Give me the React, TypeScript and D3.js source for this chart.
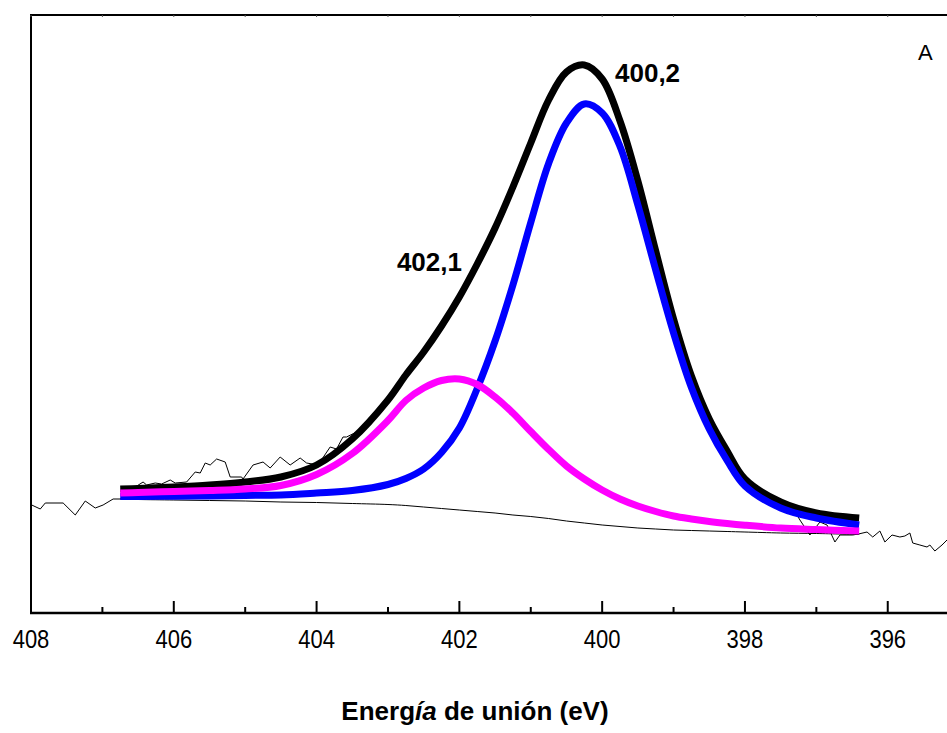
import React from "react";
import * as d3 from "d3";

// Binding energy grid for fitted curves (eV, high -> low)
const energies = [406.75, 406.5, 406, 405.5, 405, 404.5, 404, 403.5, 403, 402.75, 402.5, 402.25, 402, 401.75, 401.5, 401.25, 401, 400.75, 400.5, 400.25, 400, 399.75, 399.5, 399.25, 399, 398.75, 398.5, 398.25, 398, 397.5, 397, 396.4];
const baseline = [1140, 1135, 1130, 1125, 1120, 1110, 1105, 1095, 1085, 1075, 1060, 1045, 1030, 1015, 1000, 980, 965, 945, 920, 900, 880, 865, 850, 840, 830, 825, 820, 815, 810, 800, 795, 785];
const peak400 = [1165, 1165, 1168, 1171, 1176, 1180, 1200, 1225, 1285, 1345, 1440, 1605, 1850, 2245, 2720, 3280, 3905, 4495, 4900, 5090, 5000, 4665, 4080, 3430, 2800, 2255, 1840, 1525, 1270, 1050, 950, 880];
const peak402 = [1200, 1205, 1215, 1225, 1240, 1275, 1385, 1595, 1925, 2125, 2250, 2325, 2340, 2285, 2160, 2000, 1815, 1635, 1470, 1340, 1230, 1140, 1070, 1015, 970, 940, 915, 895, 878, 850, 835, 820];
const envelope = [1240, 1245, 1260, 1280, 1310, 1360, 1480, 1740, 2130, 2380, 2610, 2870, 3160, 3490, 3850, 4260, 4700, 5130, 5410, 5480, 5340, 4920, 4320, 3620, 2940, 2370, 1940, 1620, 1340, 1110, 1000, 950];

// Measured spectrum
const rawE = [407.99, 407.87, 407.8, 407.55, 407.38, 407.24, 407.1, 406.99, 406.85, 406.75, 406.54, 406.43, 406.38, 406.26, 406.17, 406.05, 405.98, 405.82, 405.7, 405.63, 405.56, 405.49, 405.4, 405.28, 405.21, 405.05, 405.03, 404.89, 404.75, 404.65, 404.51, 404.37, 404.23, 404.14, 403.98, 403.81, 403.72, 403.63, 403.58, 403.44, 403.37, 403.3, 403.11, 402.83, 402.69, 402.32, 402.13, 401.9, 401.7, 401.5, 401.3, 401.1, 400.9, 400.7, 400.55, 400.4, 400.3, 400.2, 400.1, 400.0, 399.85, 399.7, 399.55, 399.4, 399.25, 399.1, 398.95, 398.8, 398.65, 398.5, 398.35, 398.2, 398.05, 397.9, 397.75, 397.6, 397.45, 397.33, 397.23, 397.09, 396.95, 396.85, 396.74, 396.67, 396.49, 396.41, 396.29, 396.21, 396.11, 396.04, 395.94, 395.83, 395.76, 395.69, 395.65, 395.55, 395.45, 395.41, 395.34, 395.24, 395.17];
const rawI = [1080, 1040, 1100, 1100, 980, 1120, 1050, 1080, 1140, 1140, 1260, 1310, 1280, 1300, 1290, 1330, 1300, 1310, 1410, 1400, 1500, 1480, 1540, 1510, 1360, 1360, 1340, 1480, 1510, 1450, 1560, 1480, 1550, 1500, 1480, 1660, 1640, 1760, 1760, 1810, 1830, 1880, 2070, 2290, 2430, 2800, 3040, 3290, 3530, 3850, 4170, 4510, 4880, 5200, 5370, 5460, 5480, 5460, 5420, 5330, 5050, 4780, 4440, 4040, 3620, 3170, 2790, 2450, 2170, 1940, 1720, 1550, 1380, 1280, 1200, 1140, 1080, 1050, 930, 780, 910, 880, 710, 780, 780, 790, 810, 760, 820, 710, 780, 760, 770, 800, 700, 680, 660, 680, 620, 680, 730];

const majorTicks = [408, 406, 404, 402, 400, 398, 396];
const minorTicks = [407, 405, 403, 401, 399, 397];
const topTicks = [408, 407, 406, 405, 404, 403, 402, 401, 400, 399, 398, 397, 396];
const peakLabels = [
  { text: "400,2", e: 399.82, v: 5310 },
  { text: "402,1", e: 402.875, v: 3420 },
];

const FONT = "'Liberation Sans', Arial, sans-serif";

export default function App() {
  const x = d3.scaleLinear().domain([408, 395.17]).range([31, 947]);
  const y = d3.scaleLinear().domain([0, 5980]).range([613, 15]);

  const smooth = d3
    .line<number>()
    .x((_, i) => x(energies[i]))
    .y((d) => y(d))
    .curve(d3.curveCatmullRom.alpha(0.5));
  const rawLine = d3
    .line<number>()
    .x((_, i) => x(rawE[i]))
    .y((d) => y(d));

  const x0 = x(408);
  const x1 = 947;
  const yb = y(0);
  const yt = y(5980);

  return (
    <svg width={947} height={733} style={{ position: "absolute", left: 0, top: 0, background: "#fff" }}>
      <rect x={0} y={0} width={947} height={733} fill="#fff" />
      {/* frame */}
      <line x1={x0} y1={yt} x2={x0} y2={yb} stroke="#000" strokeWidth={2} />
      <line x1={x0 - 1} y1={yt} x2={x1} y2={yt} stroke="#000" strokeWidth={2} />
      <line x1={x0 - 1} y1={yb} x2={x1} y2={yb} stroke="#000" strokeWidth={2.5} />
      {majorTicks.map((t) => (
        <line key={"M" + t} x1={x(t)} x2={x(t)} y1={yb} y2={yb - 12} stroke="#000" strokeWidth={2} />
      ))}
      {minorTicks.map((t) => (
        <line key={"m" + t} x1={x(t)} x2={x(t)} y1={yb} y2={yb - 6} stroke="#000" strokeWidth={2} />
      ))}
      {topTicks.map((t) => (
        <line key={"t" + t} x1={x(t)} x2={x(t)} y1={yt} y2={yt + 2} stroke="#555" strokeWidth={1} />
      ))}
      {majorTicks.map((t) => (
        <text
          key={"L" + t}
          transform={`translate(${x(t)},648) scale(1,1.13)`}
          textAnchor="middle"
          fontFamily={FONT}
          fontSize={22}
          fill="#000"
        >
          {t}
        </text>
      ))}
      {/* curves */}
      <path d={smooth(baseline) || ""} fill="none" stroke="#000" strokeWidth={1} />
      <path d={smooth(envelope) || ""} fill="none" stroke="#000" strokeWidth={7} />
      <path d={rawLine(rawI) || ""} fill="none" stroke="#000" strokeWidth={1} />
      <path d={smooth(peak400) || ""} fill="none" stroke="#0000ff" strokeWidth={7} />
      <path d={smooth(peak402) || ""} fill="none" stroke="#ff00ff" strokeWidth={7} />
      {/* labels */}
      {peakLabels.map((p) => (
        <text key={p.text} x={x(p.e)} y={y(p.v)} fontFamily={FONT} fontWeight="bold" fontSize={26} fill="#000">
          {p.text}
        </text>
      ))}
      <text x={918} y={60} fontFamily={FONT} fontSize={22} fill="#000">
        A
      </text>
      <text x={475} y={720} textAnchor="middle" fontFamily={FONT} fontWeight="bold" fontSize={26} fill="#000">
        Energ<tspan fontStyle="italic">ía</tspan> de unión (eV)
      </text>
    </svg>
  );
}
